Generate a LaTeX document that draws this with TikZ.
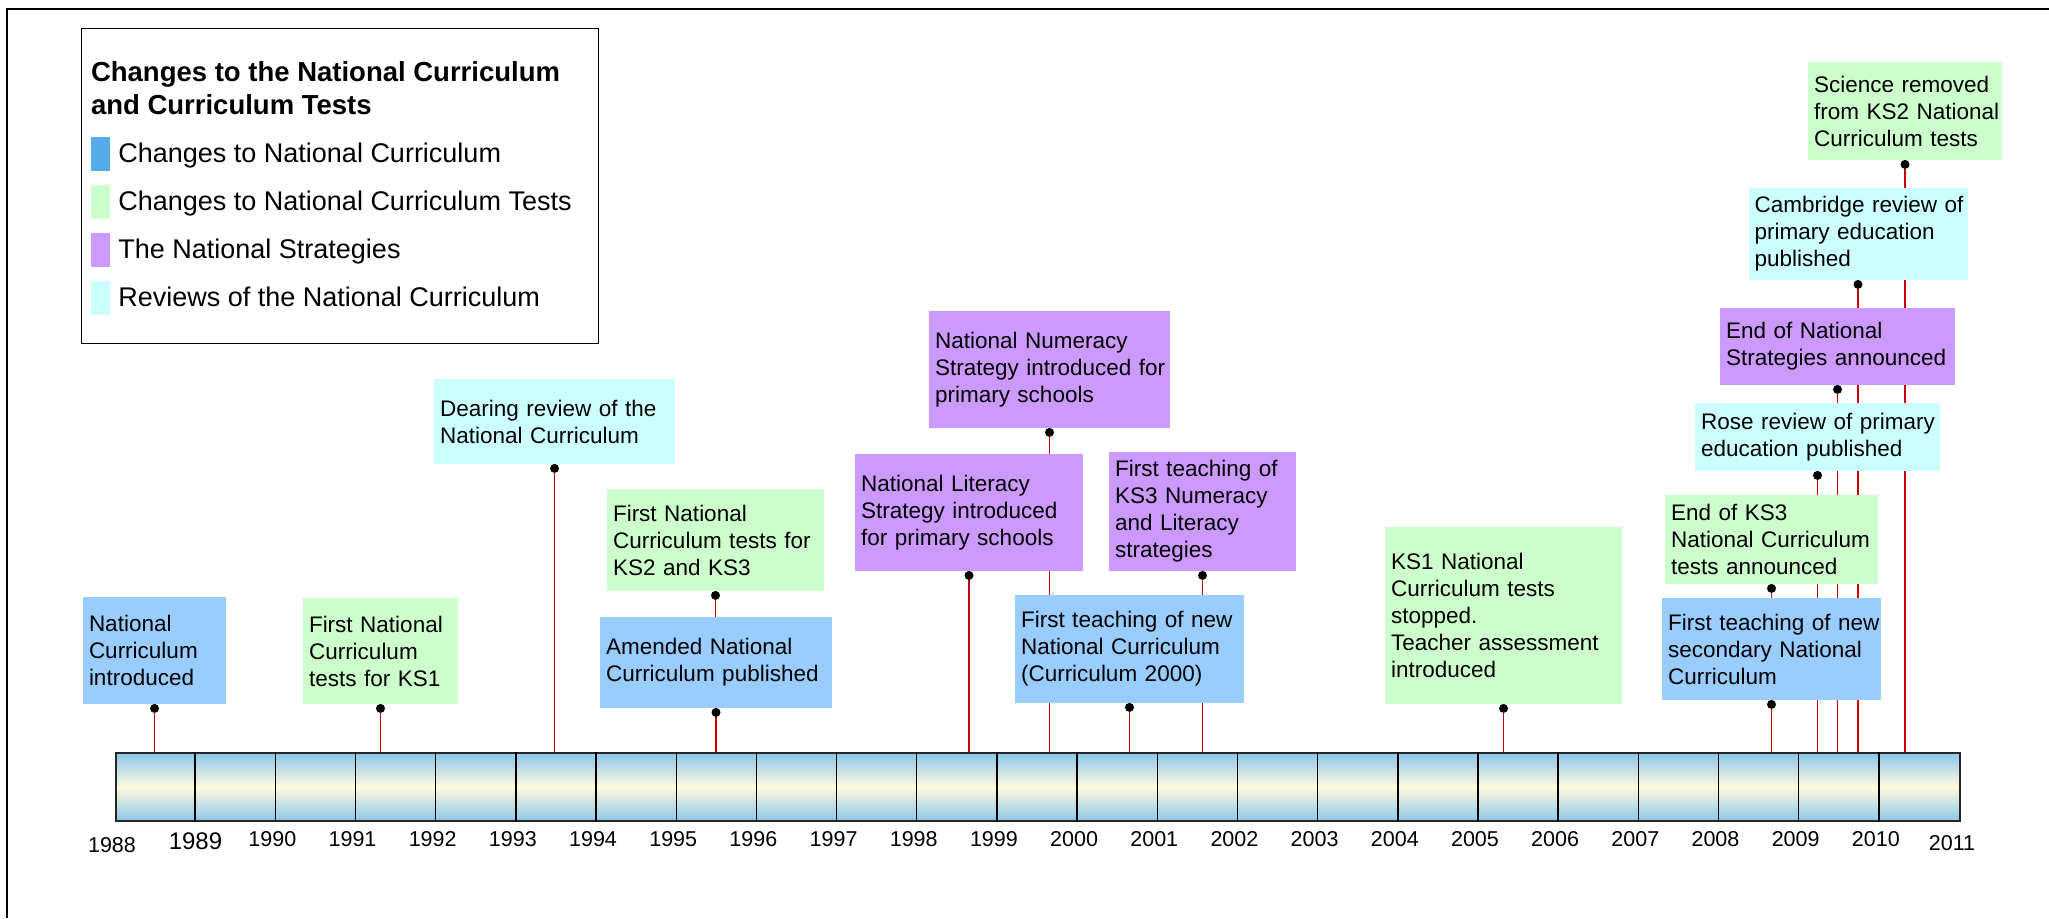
\documentclass[tikz,border=0pt]{standalone}
\usepackage{fontspec}
\setmainfont{Liberation Sans}
\usetikzlibrary{calc}
\pgfdeclarelayer{background}
\pgfsetlayers{background,main}
\definecolor{ncblue}{RGB}{153,204,255}
\definecolor{ncgreen}{RGB}{204,255,204}
\definecolor{ncpurple}{RGB}{204,153,255}
\definecolor{nccyan}{RGB}{204,255,255}
\definecolor{swblue}{RGB}{86,172,232}
\definecolor{tlblue}{RGB}{140,198,236}
\definecolor{tlcream}{RGB}{255,250,220}
\definecolor{evred}{RGB}{200,0,0}
\newcommand{\evl}[1]{\mbox{#1}}
\tikzset{
  evbox/.style={rectangle, inner xsep=3pt, inner ysep=0pt, align=left,
    font=\fontsize{11.25}{13.5}\selectfont, anchor=center},
  evline/.style={draw=evred, line width=0.75pt},
  yearlbl/.style={anchor=base, font=\fontsize{10.75}{12}\selectfont},
  legitem/.style={anchor=base west, inner sep=0pt, font=\fontsize{13.5}{16}\selectfont},
  legtitle/.style={anchor=base west, inner sep=0pt, font=\bfseries\fontsize{13.75}{16.5}\selectfont},
  swatch/.style={minimum width=9.7pt, minimum height=17pt, inner sep=0pt, anchor=north west},
}
\begin{document}
\begin{tikzpicture}[x=0.5pt,y=-0.5pt]
\useasboundingbox (0,0) rectangle (2049,918);
% frame
\draw[line width=1pt] (7,918) -- (7,9) -- (2049,9);
% legend
\node[draw, line width=0.7pt, minimum width=258.5pt, minimum height=157.5pt, inner sep=0pt, anchor=north west] (legend) at (81,28) {};
\node[legtitle] (lt1) at (90.6,81) {Changes to the National Curriculum};
\node[legtitle] (lt2) at (90.6,114) {and Curriculum Tests};
\node[swatch, fill=swblue] (sw1) at (90.6,137) {};
\node[swatch, fill=ncgreen] (sw2) at (90.6,185) {};
\node[swatch, fill=ncpurple] (sw3) at (90.6,233) {};
\node[swatch, fill=nccyan] (sw4) at (90.6,281) {};
\node[legitem] (li1) at (118,162) {Changes to National Curriculum};
\node[legitem] (li2) at (118,210) {Changes to National Curriculum Tests};
\node[legitem] (li3) at (118,258) {The National Strategies};
\node[legitem] (li4) at (118,306) {Reviews of the National Curriculum};
% timeline bar
\node[draw=black!85, line width=0.9pt, top color=tlblue, bottom color=tlblue, middle color=tlcream,
  minimum width=922pt, minimum height=34pt, inner sep=0pt, anchor=north west] (bar) at (115,752) {};
\foreach \i in {1,...,22}
  \draw[line width=0.7pt] ($(bar.north west)+(\i*80.174,0)$) -- ($(bar.south west)+(\i*80.174,0)$);
% year labels
\node[yearlbl] (y1988) at (112,852.5) {1988};
\node[yearlbl, font=\fontsize{12}{14}\selectfont] (y1989) at (195.5,849) {1989};
\foreach \yr [count=\i from 2] in {1990,...,2010}
  \node[yearlbl] (y\yr) at ({115+\i*80.174-3},846.5) {\yr};
\node[yearlbl] (y2011) at (1952,850) {2011};
% event boxes
\node[evbox, fill=ncblue, minimum width=71.5pt, minimum height=53.5pt, text width=65.5pt] (nci) at (154.5,650.5)
  {\evl{National}\\\evl{Curriculum}\\\evl{introduced}};
\node[evbox, fill=ncgreen, minimum width=77.5pt, minimum height=53pt, text width=71.5pt] (ksone) at (380.5,651)
  {\evl{First National}\\\evl{Curriculum}\\\evl{tests for KS1}};
\node[evbox, fill=nccyan, minimum width=120.5pt, minimum height=42.5pt, text width=114.5pt] (dearing) at (554.5,421.5)
  {\evl{Dearing review of the}\\\evl{National Curriculum}};
\node[evbox, fill=ncgreen, minimum width=108.5pt, minimum height=51pt, text width=102.5pt] (kstwothree) at (715.5,540)
  {\evl{First National}\\\evl{Curriculum tests for}\\\evl{KS2 and KS3}};
\node[evbox, fill=ncblue, minimum width=116pt, minimum height=45.5pt, text width=110pt] (amended) at (716,662.5)
  {\evl{Amended National}\\\evl{Curriculum published}};
\node[evbox, fill=ncpurple, minimum width=120.5pt, minimum height=58.5pt, text width=114.5pt] (numeracy) at (1049.5,369.5)
  {\evl{National Numeracy}\\\evl{Strategy introduced for}\\\evl{primary schools}};
\node[evbox, fill=ncpurple, minimum width=114pt, minimum height=58.5pt, text width=108pt] (literacy) at (969,512.5)
  {\evl{National Literacy}\\\evl{Strategy introduced}\\\evl{for primary schools}};
\node[evbox, fill=ncpurple, minimum width=93.5pt, minimum height=59.5pt, text width=87.5pt] (ksthreestrat) at (1202.5,511.5)
  {\evl{First teaching of}\\\evl{KS3 Numeracy}\\\evl{and Literacy}\\\evl{strategies}};
\node[evbox, fill=ncblue, minimum width=114.5pt, minimum height=54pt, text width=108.5pt] (ctwothousand) at (1129.5,649)
  {\evl{First teaching of new}\\\evl{National Curriculum}\\\evl{(Curriculum 2000)}};
\node[evbox, fill=ncgreen, minimum width=118.5pt, minimum height=88.5pt, text width=112.5pt] (ksonestop) at (1503.5,615.5)
  {\evl{KS1 National}\\\evl{Curriculum tests}\\\evl{stopped.}\\\evl{Teacher assessment}\\\evl{introduced}};
\node[evbox, fill=ncblue, minimum width=109.5pt, minimum height=51pt, text width=103.5pt] (secondary) at (1771.5,649)
  {\evl{First teaching of new}\\\evl{secondary National}\\\evl{Curriculum}};
\node[evbox, fill=ncgreen, minimum width=106.5pt, minimum height=44.5pt, text width=100.5pt] (endksthree) at (1771.5,539.5)
  {\evl{End of KS3}\\\evl{National Curriculum}\\\evl{tests announced}};
\node[evbox, fill=nccyan, minimum width=122.5pt, minimum height=34pt, text width=116.5pt] (rose) at (1817.5,437)
  {\evl{Rose review of primary}\\\evl{education published}};
\node[evbox, fill=ncpurple, minimum width=117.5pt, minimum height=38.5pt, text width=111.5pt] (endns) at (1837.5,346.5)
  {\evl{End of National}\\\evl{Strategies announced}};
\node[evbox, fill=nccyan, minimum width=109.5pt, minimum height=46pt, text width=103.5pt] (cambridge) at (1858,234)
  {\evl{Cambridge review of}\\\evl{primary education}\\\evl{published}};
\node[evbox, fill=ncgreen, minimum width=97pt, minimum height=49pt, text width=91pt] (science) at (1905,111)
  {\evl{Science removed}\\\evl{from KS2 National}\\\evl{Curriculum tests}};
% connectors
\foreach \n in {nci,ksone,dearing,kstwothree,amended,numeracy,literacy,ksthreestrat,ctwothousand,ksonestop,secondary,endksthree,rose,endns,cambridge,science}{
  \coordinate (\n-d) at ([yshift=-2pt]\n.south);
  \begin{pgfonlayer}{background}
    \draw[evline] (\n-d) -- (\n-d |- bar.north);
  \end{pgfonlayer}
  \fill (\n-d) circle[radius=2.25pt];
}
\end{tikzpicture}
\end{document}
